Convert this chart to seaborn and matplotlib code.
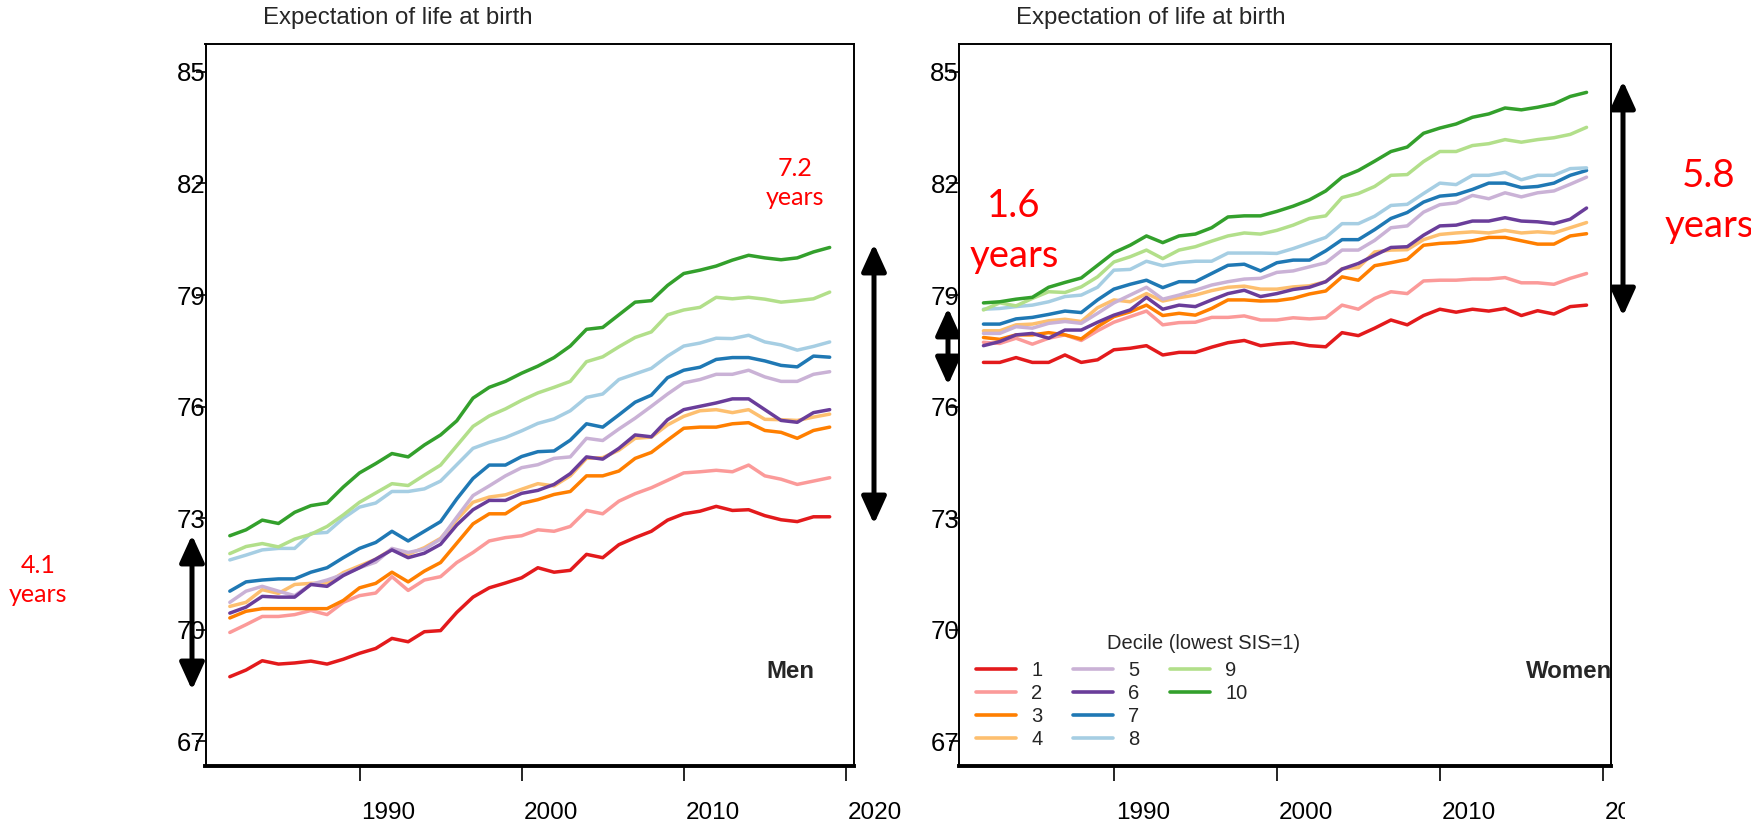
import numpy as np
import pandas as pd
import matplotlib
matplotlib.use("Agg")
import matplotlib.pyplot as plt
import seaborn as sns
from matplotlib.lines import Line2D
from matplotlib.transforms import ScaledTranslation, Bbox, TransformedBbox

# ---------------- data ----------------
years = list(range(1982, 2020))
deciles = [str(i) for i in range(1, 11)]
decile_colors = ["#E31A1C", "#FB9A99", "#FF7F00", "#FDBF6F", "#CAB2D6",
                 "#6A3D9A", "#1F78B4", "#A6CEE3", "#B2DF8A", "#33A02C"]

men_d1 = [68.74, 68.92, 69.17, 69.08, 69.11, 69.16, 69.08, 69.21, 69.37, 69.50, 69.77, 69.68, 69.95, 69.98, 70.47, 70.88, 71.13, 71.26,
          71.40, 71.67, 71.55, 71.60, 72.03, 71.94, 72.29, 72.48, 72.65, 72.95, 73.12, 73.19, 73.32, 73.21, 73.23, 73.07, 72.96, 72.91, 73.04, 73.04]
men_d2 = [69.93, 70.14, 70.36, 70.36, 70.41, 70.52, 70.41, 70.74, 70.92, 70.99, 71.43, 71.06, 71.34, 71.43, 71.81, 72.08, 72.39, 72.48,
          72.53, 72.69, 72.65, 72.78, 73.21, 73.12, 73.46, 73.66, 73.82, 74.02, 74.22, 74.25, 74.29, 74.25, 74.43, 74.14, 74.05, 73.91, 74.00, 74.09]
men_d3 = [70.32, 70.50, 70.57, 70.57, 70.57, 70.57, 70.57, 70.79, 71.13, 71.25, 71.55, 71.29, 71.58, 71.81, 72.33, 72.85, 73.12, 73.12,
          73.40, 73.50, 73.64, 73.72, 74.14, 74.14, 74.27, 74.61, 74.77, 75.10, 75.42, 75.45, 75.45, 75.54, 75.57, 75.36, 75.31, 75.15, 75.36, 75.45]
men_d4 = [70.63, 70.74, 71.08, 70.98, 71.22, 71.25, 71.26, 71.54, 71.72, 71.90, 72.17, 72.03, 72.21, 72.46, 72.96, 73.43, 73.57, 73.63,
          73.78, 73.93, 73.87, 74.14, 74.61, 74.63, 74.83, 75.15, 75.18, 75.51, 75.74, 75.89, 75.92, 75.84, 75.92, 75.66, 75.65, 75.63, 75.72, 75.80]
men_d5 = [70.74, 71.04, 71.17, 71.04, 70.92, 71.22, 71.34, 71.49, 71.67, 71.82, 72.19, 72.08, 72.17, 72.44, 73.03, 73.61, 73.87, 74.14,
          74.36, 74.44, 74.61, 74.65, 75.15, 75.09, 75.40, 75.69, 76.01, 76.34, 76.64, 76.73, 76.87, 76.87, 76.98, 76.80, 76.68, 76.68, 76.87, 76.94]
men_d6 = [70.45, 70.61, 70.90, 70.88, 70.88, 71.22, 71.17, 71.46, 71.67, 71.90, 72.15, 71.94, 72.06, 72.30, 72.82, 73.23, 73.48, 73.48,
          73.67, 73.75, 73.91, 74.20, 74.65, 74.59, 74.88, 75.24, 75.19, 75.65, 75.92, 76.01, 76.10, 76.21, 76.21, 75.92, 75.63, 75.58, 75.84, 75.92]
men_d7 = [71.04, 71.29, 71.34, 71.37, 71.37, 71.55, 71.67, 71.94, 72.19, 72.35, 72.65, 72.39, 72.65, 72.91, 73.52, 74.07, 74.43, 74.43,
          74.66, 74.79, 74.81, 75.10, 75.54, 75.45, 75.78, 76.12, 76.31, 76.78, 76.98, 77.06, 77.27, 77.32, 77.32, 77.23, 77.11, 77.07, 77.36, 77.33]
men_d8 = [71.88, 72.01, 72.15, 72.19, 72.19, 72.59, 72.62, 73.00, 73.30, 73.41, 73.72, 73.72, 73.79, 74.00, 74.44, 74.88, 75.04, 75.17,
          75.35, 75.55, 75.67, 75.89, 76.25, 76.34, 76.73, 76.88, 77.03, 77.36, 77.63, 77.71, 77.84, 77.83, 77.92, 77.74, 77.66, 77.52, 77.62, 77.74]
men_d9 = [72.05, 72.24, 72.32, 72.23, 72.44, 72.57, 72.78, 73.09, 73.43, 73.68, 73.93, 73.88, 74.16, 74.43, 74.95, 75.47, 75.75, 75.94,
          76.17, 76.37, 76.52, 76.68, 77.21, 77.34, 77.61, 77.86, 78.01, 78.47, 78.60, 78.67, 78.94, 78.90, 78.94, 78.89, 78.81, 78.85, 78.90, 79.08]
men_d10 = [72.53, 72.69, 72.95, 72.86, 73.16, 73.34, 73.41, 73.84, 74.22, 74.47, 74.74, 74.65, 74.97, 75.24, 75.62, 76.23, 76.52, 76.68,
           76.90, 77.09, 77.32, 77.63, 78.08, 78.13, 78.47, 78.81, 78.85, 79.26, 79.58, 79.67, 79.78, 79.94, 80.07, 80.00, 79.95, 80.00, 80.16, 80.28]

women_d1 = [77.19, 77.19, 77.32, 77.19, 77.19, 77.39, 77.19, 77.26, 77.53, 77.57, 77.64, 77.39, 77.46, 77.46, 77.60, 77.72, 77.78, 77.64,
            77.69, 77.72, 77.64, 77.61, 77.99, 77.91, 78.11, 78.33, 78.20, 78.45, 78.62, 78.54, 78.62, 78.57, 78.64, 78.45, 78.58, 78.49, 78.69, 78.73]
women_d2 = [77.73, 77.70, 77.84, 77.68, 77.84, 77.93, 77.78, 78.04, 78.27, 78.42, 78.57, 78.20, 78.26, 78.27, 78.40, 78.40, 78.44, 78.33,
            78.33, 78.39, 78.36, 78.39, 78.73, 78.62, 78.91, 79.09, 79.04, 79.38, 79.40, 79.40, 79.43, 79.43, 79.47, 79.33, 79.33, 79.29, 79.45, 79.58]
women_d3 = [77.86, 77.81, 77.93, 77.93, 77.99, 77.93, 77.82, 78.15, 78.42, 78.55, 78.73, 78.45, 78.51, 78.46, 78.64, 78.87, 78.87, 78.84,
            78.85, 78.91, 79.03, 79.11, 79.49, 79.40, 79.79, 79.87, 79.96, 80.34, 80.39, 80.41, 80.46, 80.55, 80.55, 80.46, 80.37, 80.37, 80.59, 80.65]
women_d4 = [78.04, 78.04, 78.20, 78.22, 78.31, 78.35, 78.29, 78.66, 78.87, 78.82, 79.04, 78.84, 78.93, 79.00, 79.12, 79.21, 79.24, 79.16,
            79.16, 79.22, 79.25, 79.36, 79.71, 79.74, 80.16, 80.21, 80.22, 80.49, 80.63, 80.67, 80.70, 80.67, 80.74, 80.67, 80.70, 80.67, 80.81, 80.95]
women_d5 = [77.97, 77.97, 78.15, 78.11, 78.24, 78.29, 78.24, 78.51, 78.79, 79.00, 79.21, 78.89, 79.00, 79.13, 79.27, 79.36, 79.43, 79.45,
            79.61, 79.65, 79.76, 79.87, 80.21, 80.21, 80.47, 80.81, 80.86, 81.23, 81.43, 81.48, 81.68, 81.59, 81.75, 81.64, 81.75, 81.80, 81.98, 82.17]
women_d6 = [77.64, 77.75, 77.93, 77.97, 77.84, 78.06, 78.06, 78.27, 78.46, 78.60, 78.94, 78.62, 78.73, 78.69, 78.87, 79.04, 79.13, 78.96,
            79.04, 79.15, 79.21, 79.36, 79.70, 79.85, 80.07, 80.28, 80.30, 80.61, 80.86, 80.88, 80.99, 80.99, 81.08, 80.99, 80.97, 80.92, 81.04, 81.34]
women_d7 = [78.22, 78.22, 78.36, 78.40, 78.48, 78.57, 78.53, 78.87, 79.16, 79.29, 79.40, 79.20, 79.36, 79.36, 79.58, 79.80, 79.83, 79.65,
            79.87, 79.94, 79.94, 80.19, 80.49, 80.49, 80.76, 81.06, 81.22, 81.50, 81.66, 81.70, 81.84, 82.01, 82.01, 81.89, 81.92, 82.01, 82.22, 82.35]
women_d8 = [78.62, 78.64, 78.69, 78.73, 78.82, 78.96, 79.00, 79.21, 79.67, 79.69, 79.91, 79.79, 79.87, 79.91, 79.91, 80.13, 80.13, 80.13,
            80.12, 80.25, 80.40, 80.55, 80.92, 80.92, 81.12, 81.41, 81.44, 81.73, 82.01, 81.97, 82.22, 82.22, 82.30, 82.10, 82.22, 82.22, 82.40, 82.42]
women_d9 = [78.60, 78.79, 78.71, 78.91, 79.09, 79.07, 79.22, 79.49, 79.89, 80.03, 80.21, 79.98, 80.21, 80.30, 80.45, 80.59, 80.67, 80.64,
            80.74, 80.88, 81.06, 81.13, 81.62, 81.73, 81.92, 82.22, 82.24, 82.59, 82.86, 82.86, 83.02, 83.07, 83.18, 83.11, 83.18, 83.23, 83.32, 83.51]
women_d10 = [78.79, 78.82, 78.89, 78.94, 79.21, 79.34, 79.46, 79.80, 80.14, 80.34, 80.59, 80.41, 80.59, 80.64, 80.81, 81.10, 81.13, 81.13,
             81.25, 81.39, 81.56, 81.80, 82.17, 82.35, 82.60, 82.86, 82.98, 83.35, 83.49, 83.60, 83.78, 83.87, 84.03, 83.98, 84.05, 84.14, 84.34, 84.45]

men_series = [men_d1, men_d2, men_d3, men_d4, men_d5, men_d6, men_d7, men_d8, men_d9, men_d10]
women_series = [women_d1, women_d2, women_d3, women_d4, women_d5, women_d6, women_d7, women_d8, women_d9, women_d10]

x_ticks = [1990, 2000, 2010, 2020]
y_ticks = [67, 70, 73, 76, 79, 82, 85]
title_text = "Expectation of life at birth"
legend_title = "Decile (lowest SIS=1)"


def to_long(series):
    rows = []
    for d, vals in zip(deciles, series):
        for y, v in zip(years, vals):
            rows.append({"year": y, "e0": v, "decile": d})
    return pd.DataFrame(rows)


df_men = to_long(men_series)
df_women = to_long(women_series)

# ---------------- figure ----------------
sns.set_theme(style="white")
plt.rcParams["font.family"] = ["Liberation Sans", "DejaVu Sans"]

W, H = 1751, 830
fig = plt.figure(figsize=(W / 100, H / 100), dpi=100)
fig.patch.set_facecolor("white")


def fx(px):
    return px / W


def fy(py):
    return 1 - py / H


ax1 = fig.add_axes([fx(205.5), fy(766), 648.5 / W, 722 / H])
ax2 = fig.add_axes([fx(959), fy(766), 652 / W, 722 / H])

palette = dict(zip(deciles, decile_colors))
for ax, df in [(ax1, df_men), (ax2, df_women)]:
    sns.lineplot(data=df, x="year", y="e0", hue="decile", hue_order=deciles,
                 palette=palette, linewidth=2.5, legend=False, ax=ax)
    ax.set_xlim(1980.5, 2020.5)
    ax.set_ylim(66.34, 85.75)
    ax.set_xticks(x_ticks)
    ax.set_xticklabels([str(t) for t in x_ticks])
    ax.set_yticks(y_ticks)
    ax.set_yticklabels([str(t) for t in y_ticks])
    ax.set_xlabel("")
    ax.set_ylabel("")
    ax.set_facecolor("white")
    ax.grid(False)
    for side in ["left", "right", "top"]:
        ax.spines[side].set_visible(True)
        ax.spines[side].set_color("black")
        ax.spines[side].set_linewidth(1.4)
    ax.spines["bottom"].set_color("black")
    ax.spines["bottom"].set_linewidth(2.8)
    ax.tick_params(axis="x", direction="out", length=11, width=1.2, pad=15,
                   labelsize=17.5, colors="black", bottom=True)
    ax.tick_params(axis="y", direction="out", length=7, width=1.2, pad=-7,
                   labelsize=18.5, colors="black", left=True)
    off = ScaledTranslation(29 / 100, 0, fig.dpi_scale_trans)
    for lab in ax.get_xticklabels():
        lab.set_transform(lab.get_transform() + off)

# clip right panel's last x label like the reference
clip = TransformedBbox(Bbox([[0, 0], [1625 / W, 1]]), fig.transFigure)
for lab in ax2.get_xticklabels():
    lab.set_clip_on(True)
    lab.set_clip_box(clip)

# titles
fig.text(fx(263), fy(18), title_text, fontsize=17.3, ha="left", va="center")
fig.text(fx(1016), fy(18), title_text, fontsize=17.3, ha="left", va="center")

# panel labels
fig.text(fx(790), fy(671), "Men", fontsize=17.3, fontweight="bold", ha="center", va="center")
fig.text(fx(1612), fy(671), "Women", fontsize=17.3, fontweight="bold", ha="right", va="center")

# legend
handles = [Line2D([0], [0], color=c, lw=2.6) for c in decile_colors]
labels = list(deciles)
handles += [Line2D([], [], color="none"), Line2D([], [], color="none")]
labels += ["", ""]
fig.legend(handles, labels, ncol=3, frameon=False, fontsize=14.5,
           handlelength=2.0, handletextpad=0.75, columnspacing=1.5,
           labelspacing=0.2, borderpad=0, borderaxespad=0,
           loc="upper left", bbox_to_anchor=(fx(976), fy(661)),
           bbox_transform=fig.transFigure)
fig.text(fx(1204), fy(643), legend_title, fontsize=14.5, ha="center", va="center")

# annotations (red text + double arrows)
red = "#FF0000"
fig.text(fx(795), fy(183), "7.2\nyears", color=red, fontsize=18, family=["Lato", "DejaVu Sans"],
         ha="center", va="center", linespacing=1.35)
fig.text(fx(38), fy(580), "4.1\nyears", color=red, fontsize=18, family=["Lato", "DejaVu Sans"],
         ha="center", va="center", linespacing=1.35)
fig.text(fx(1014), fy(231), "1.6\nyears", color=red, fontsize=27.5, family=["Lato", "DejaVu Sans"],
         ha="center", va="center", linespacing=1.45)
fig.text(fx(1709), fy(201), "5.8\nyears", color=red, fontsize=27.5, family=["Lato", "DejaVu Sans"],
         ha="center", va="center", linespacing=1.45)


def dbl_arrow(x, ytop, ybot):
    ax1.annotate("", xy=(fx(x), fy(ytop)), xytext=(fx(x), fy(ybot)),
                 xycoords="figure fraction", textcoords="figure fraction",
                 annotation_clip=False,
                 arrowprops=dict(arrowstyle="<|-|>,head_length=1.1,head_width=0.5",
                                 mutation_scale=15, lw=3.6, color="black",
                                 shrinkA=0, shrinkB=0))


dbl_arrow(874, 244, 524)
dbl_arrow(192, 535, 690)
dbl_arrow(948, 308, 385)
dbl_arrow(1623, 81, 316)

fig.savefig("out.png", dpi=100, facecolor="white")
